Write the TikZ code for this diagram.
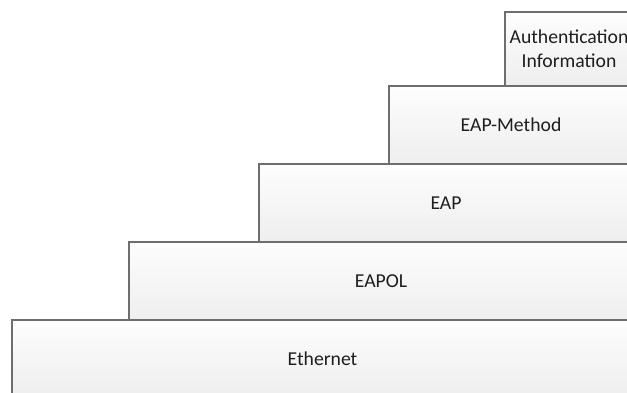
\documentclass[tikz,border=0pt]{standalone}
\usepackage{fontspec}
\setmainfont{Carlito}
\definecolor{edge}{RGB}{110,110,110}
\definecolor{topc}{RGB}{253,253,253}
\definecolor{botc}{RGB}{238,238,238}
\definecolor{txt}{RGB}{30,30,30}
\begin{document}
\begin{tikzpicture}[x=1bp,y=-1bp,
  layer/.style={draw=edge, line width=1.3bp, top color=topc, bottom color=botc,
    anchor=north west, inner sep=0pt, outer sep=0pt, align=center,
    text=txt, font=\fontsize{19.7bp}{24bp}\selectfont}]
\useasboundingbox (0,0) rectangle (627,392);
\clip (0,0) rectangle (627,392);
\node[layer, minimum width=128bp, minimum height=74bp] (auth) at (505,12) {Authentication\\Information};
\node[layer, minimum width=244bp, minimum height=78bp] (method) at (389,86) {EAP-Method};
\node[layer, minimum width=374bp, minimum height=78bp] (eap) at (259,164) {EAP};
\node[layer, minimum width=504bp, minimum height=78bp] (eapol) at (129,242) {EAPOL};
\node[layer, minimum width=621bp, minimum height=78bp] (eth) at (12,320) {Ethernet};
\end{tikzpicture}
\end{document}
